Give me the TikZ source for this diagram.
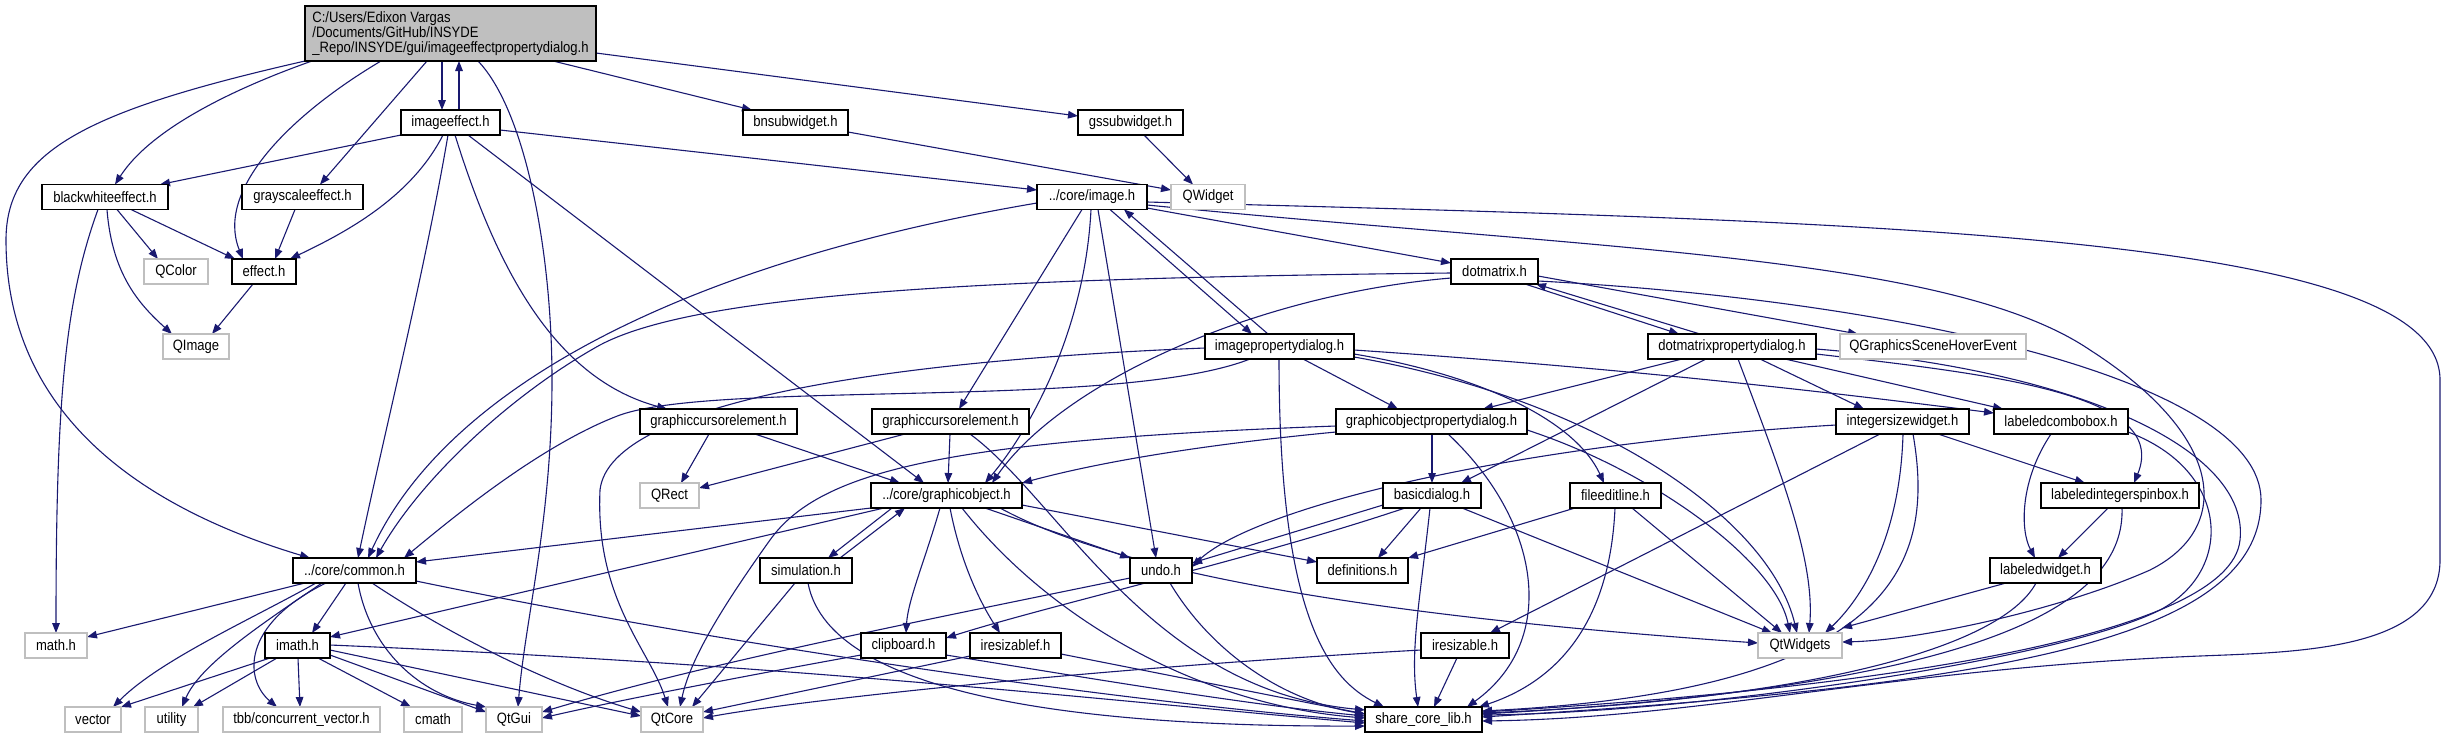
\documentclass[tikz,border=0pt]{standalone}
\usepackage{fontspec}
\setmainfont{Liberation Sans}[FakeStretch=0.87]
\usetikzlibrary{arrows.meta}
\definecolor{edge}{HTML}{191970}
\definecolor{sysgray}{HTML}{BFBFBF}
\definecolor{rootgray}{HTML}{BFBFBF}
\newcommand\nfont{\fontsize{7.5pt}{7.6pt}\selectfont}
\newcommand\nd[6]{\node[#5, minimum width={(#3-#2)*0.5pt}, minimum height=12.5pt] (#1) at ({(#2+#3)/2},#4) {#6};}
\pgfdeclarelayer{bg}\pgfsetlayers{bg,main}
\tikzset{
 hdr/.style={draw=black, line width=0.65pt, fill=white, inner sep=0pt, outer sep=0pt, font=\nfont},
 sys/.style={draw=sysgray, line width=0.65pt, fill=white, inner sep=0pt, outer sep=0pt, font=\nfont},
 edg/.style={draw=edge, line width=0.55pt, -{Triangle[length=5pt,width=3.8pt]}, fill=none}
}
\begin{document}
\begin{tikzpicture}[x=0.5pt,y=-0.5pt]
\useasboundingbox (0,0) rectangle (2445,739);
\node[hdr, fill=rootgray, minimum width=145.5pt, minimum height=27.5pt, align=left] (root) at (450.5,33.5)
 {C:/Users/Edixon Vargas\\/Documents/GitHub/INSYDE\\\_Repo/INSYDE/gui/imageeffectpropertydialog.h};
\nd{ie}{401}{500}{122.5}{hdr}{imageeffect.h}
\nd{bnsw}{743}{848}{122.5}{hdr}{bnsubwidget.h}
\nd{gssw}{1078}{1183}{122.5}{hdr}{gssubwidget.h}
\nd{bwe}{42}{168}{197}{hdr}{blackwhiteeffect.h}
\nd{gse}{242}{363}{197}{hdr}{grayscaleeffect.h}
\nd{img}{1037}{1147}{197}{hdr}{../core/image.h}
\nd{qwidget}{1171}{1245}{197}{sys}{QWidget}
\nd{qcolor}{144}{208}{271.5}{sys}{QColor}
\nd{effect}{232}{296}{271.5}{hdr}{effect.h}
\nd{dotm}{1451}{1538}{271.5}{hdr}{dotmatrix.h}
\nd{qimage}{163}{229}{346.5}{sys}{QImage}
\nd{ipd}{1205}{1354}{346.5}{hdr}{imagepropertydialog.h}
\nd{dmpd}{1648}{1816}{346.5}{hdr}{dotmatrixpropertydialog.h}
\nd{qgshe}{1840}{2026}{346.5}{sys}{QGraphicsSceneHoverEvent}
\nd{gceA}{640}{797}{421.5}{hdr}{graphiccursorelement.h}
\nd{gceB}{872}{1029}{421.5}{hdr}{graphiccursorelement.h}
\nd{gopd}{1336}{1527}{421.5}{hdr}{graphicobjectpropertydialog.h}
\nd{isw}{1836}{1969}{421.5}{hdr}{integersizewidget.h}
\nd{lcb}{1994}{2128}{421.5}{hdr}{labeledcombobox.h}
\nd{qrect}{640}{699}{495.5}{sys}{QRect}
\nd{gobj}{871}{1022}{495.5}{hdr}{../core/graphicobject.h}
\nd{bdlg}{1383}{1481}{495.5}{hdr}{basicdialog.h}
\nd{fel}{1570}{1661}{495.5}{hdr}{fileeditline.h}
\nd{lisb}{2041}{2199}{495.5}{hdr}{labeledintegerspinbox.h}
\nd{common}{293}{416}{570.5}{hdr}{../core/common.h}
\nd{sim}{760}{852}{570.5}{hdr}{simulation.h}
\nd{undo}{1130}{1192}{570.5}{hdr}{undo.h}
\nd{defs}{1317}{1408}{570.5}{hdr}{definitions.h}
\nd{lw}{1990}{2101}{570.5}{hdr}{labeledwidget.h}
\nd{mathh}{25}{87}{645.5}{sys}{math.h}
\nd{imath}{265}{330}{645.5}{hdr}{imath.h}
\nd{clip}{861}{946}{645.5}{hdr}{clipboard.h}
\nd{iresf}{970}{1061}{645.5}{hdr}{iresizablef.h}
\nd{ires}{1421}{1509}{645.5}{hdr}{iresizable.h}
\nd{qtw}{1758}{1842}{645.5}{sys}{QtWidgets}
\nd{vector}{65}{121}{719.5}{sys}{vector}
\nd{utility}{145}{198}{719.5}{sys}{utility}
\nd{tbb}{223}{380}{719.5}{sys}{tbb/concurrent\_vector.h}
\nd{cmath}{404}{462}{719.5}{sys}{cmath}
\nd{qtgui}{486}{542}{719.5}{sys}{QtGui}
\nd{qtcore}{641}{703}{719.5}{sys}{QtCore}
\nd{share}{1365}{1482}{719.5}{hdr}{share\_core\_lib.h}

\begin{pgfonlayer}{bg}
% root
\draw[edg] (root.south -| 442,0) -- (ie.north -| 442,0);
\draw[edg] (ie.north -| 459,0) -- (root.south -| 459,0);
\draw[edg] (root.south -| 312,0) .. controls (230,90) and (150,130) .. (bwe.north -| 115,0);
\draw[edg] (root.south -| 381,0) .. controls (290,115) and (215,190) .. (effect.north -| 243,0);
\draw[edg] (root.south -| 427,0) -- (gse.north -| 320,0);
\draw[edg] (root.south west) .. controls (90,110) and (6,150) .. (6,240) .. controls (6,420) and (150,510) .. (common.north -| 310,0);
\draw[edg] (root.south -| 478,0) .. controls (525,110) and (552,250) .. (552,380) .. controls (552,520) and (525,620) .. (qtgui.north -| 518,0);
\draw[edg] (root.south -| 553,0) -- (bnsw.north -| 752,0);
\draw[edg] (root.east |- 0,53) -- (gssw.west |- 0,116);
% imageeffect
\draw[edg] (ie.south west) -- (bwe.north -| 160,0);
\draw[edg] (ie.south -| 443,0) .. controls (410,200) and (340,235) .. (effect.north -| 290,0);
\draw[edg] (ie.south -| 448,0) .. controls (425,270) and (385,430) .. (common.north -| 358,0);
\draw[edg] (ie.south -| 455,0) .. controls (500,280) and (560,380) .. (gceA.north -| 667,0);
\draw[edg] (ie.south -| 468,0) -- (gobj.north -| 924,0);
\draw[edg] (ie.east |- 0,130) -- (img.west |- 0,190);
% effects
\draw[edg] (bwe.south -| 98,0) .. controls (65,300) and (56,400) .. (mathh.north -| 56,0);
\draw[edg] (bwe.south -| 107,0) .. controls (112,275) and (140,305) .. (qimage.north -| 172,0);
\draw[edg] (bwe.south -| 117,0) -- (qcolor.north -| 158,0);
\draw[edg] (bwe.south -| 131,0) -- (effect.north -| 235,0);
\draw[edg] (gse.south -| 295,0) -- (effect.north -| 275,0);
\draw[edg] (effect.south -| 253,0) -- (qimage.north -| 212,0);
\draw[edg] (bnsw.east |- 0,132) -- (qwidget.west |- 0,190);
\draw[edg] (gssw.south -| 1144,0) -- (qwidget.north -| 1193,0);
% image.h
\draw[edg] (img.west |- 0,203) .. controls (700,260) and (450,380) .. (common.north -| 368,0);
\draw[edg] (img.south -| 1082,0) -- (gceB.north -| 959,0);
\draw[edg] (img.south -| 1091,0) .. controls (1085,330) and (1030,430) .. (gobj.north -| 985,0);
\draw[edg] (img.south -| 1098,0) -- (undo.north -| 1156,0);
\draw[edg] (img.south -| 1110,0) -- (ipd.north -| 1252,0);
\draw[edg] (ipd.north -| 1268,0) -- (img.south -| 1124,0);
\draw[edg] (img.east |- 0,208) -- (dotm.west |- 0,263);
\draw[edg] (img.east |- 0,202) .. controls (1900,222) and (2440,235) .. (2440,380) -- (2440,560) .. controls (2440,650) and (2300,652) .. (2200,656) .. controls (1900,668) and (1700,718) .. (share.east |- 0,721);
\draw[edg] (img.east |- 0,205) .. controls (1600,250) and (1950,255) .. (2090,350) .. controls (2230,440) and (2230,530) .. (2150,570) .. controls (2060,610) and (1920,640) .. (qtw.east |- 0,642);
% dotmatrix
\draw[edg] (dotm.south -| 1525,0) -- (dmpd.north -| 1679,0);
\draw[edg] (dmpd.north -| 1700,0) -- (dotm.south -| 1536,0);
\draw[edg] (dotm.east |- 0,276) -- (qgshe.north -| 1858,0);
\draw[edg] (dotm.west |- 0,273) .. controls (1000,278) and (700,292) .. (600,345) .. controls (510,395) and (420,480) .. (common.north -| 376,0);
\draw[edg] (dotm.west |- 0,278) .. controls (1250,295) and (1060,385) .. (gobj.north -| 992,0);
\draw[edg] (dotm.east |- 0,281) .. controls (1900,300) and (2261,380) .. (2261,500) .. controls (2261,640) and (2000,685) .. (share.east |- 0,717);
% imagepropertydialog
\draw[edg] (ipd.south -| 1303,0) -- (gopd.north -| 1398,0);
\draw[edg] (ipd.east |- 0,350) .. controls (1650,370) and (1850,395) .. (lcb.west |- 0,413);
\draw[edg] (ipd.east |- 0,354) .. controls (1480,375) and (1575,420) .. (fel.north -| 1604,0);
\draw[edg] (ipd.east |- 0,357) .. controls (1600,400) and (1770,520) .. (qtw.north -| 1797,0);
\draw[edg] (ipd.south -| 1279,0) .. controls (1279,620) and (1330,680) .. (share.north -| 1384,0);
\draw[edg] (ipd.south -| 1250,0) .. controls (1120,410) and (720,380) .. (620,415) .. controls (540,445) and (450,520) .. (common.north -| 404,0);
\draw[edg] (ipd.west |- 0,348) .. controls (900,360) and (610,400) .. (600,490) .. controls (595,600) and (650,650) .. (qtcore.north -| 668,0);
% dotmatrixpropertydialog
\draw[edg] (dmpd.south -| 1682,0) -- (gopd.north -| 1483,0);
\draw[edg] (dmpd.south -| 1706,0) -- (bdlg.north -| 1461,0);
\draw[edg] (dmpd.south -| 1738,0) .. controls (1780,470) and (1815,560) .. (qtw.north -| 1809,0);
\draw[edg] (dmpd.south -| 1760,0) -- (isw.north -| 1864,0);
\draw[edg] (dmpd.south -| 1785,0) -- (lcb.north -| 2003,0);
\draw[edg] (dmpd.east |- 0,354) .. controls (2000,375) and (2170,395) .. (lisb.north -| 2134,0);
\draw[edg] (dmpd.east |- 0,349) .. controls (2080,370) and (2250,450) .. (2240,540) .. controls (2230,640) and (1850,690) .. (share.east |- 0,712);
% graphiccursorelement
\draw[edg] (gceA.south -| 709,0) -- (qrect.north -| 681,0);
\draw[edg] (gceA.south -| 755,0) -- (gobj.north -| 900,0);
\draw[edg] (gceB.south -| 905,0) -- (qrect.east |- 0,488);
\draw[edg] (gceB.south -| 950,0) -- (gobj.north -| 948,0);
\draw[edg] (gceB.south -| 970,0) .. controls (1060,500) and (1150,690) .. (share.west |- 0,710);
% graphicobjectpropertydialog
\draw[edg] (gopd.south -| 1432,0) -- (bdlg.north -| 1432,0);
\draw[edg] (gopd.south -| 1448,0) .. controls (1540,520) and (1560,640) .. (share.north -| 1467,0);
\draw[edg] (gopd.east |- 0,430) .. controls (1650,470) and (1775,560) .. (qtw.north -| 1790,0);
\draw[edg] (gopd.west |- 0,432) .. controls (1200,445) and (1100,462) .. (gobj.north east);
\draw[edg] (gopd.west |- 0,426) .. controls (950,440) and (820,470) .. (770,540) .. controls (720,610) and (690,660) .. (qtcore.north -| 680,0);
% graphicobject
\draw[edg] (gobj.south west) -- (common.east |- 0,562);
\draw[edg] (gobj.south -| 884,0) -- (imath.east |- 0,637);
\draw[edg] (gobj.south -| 892,0) -- (sim.north -| 828,0);
\draw[edg] (sim.north -| 840,0) -- (gobj.south -| 905,0);
\draw[edg] (gobj.south -| 940,0) .. controls (925,560) and (908,600) .. (clip.north -| 906,0);
\draw[edg] (gobj.south -| 950,0) .. controls (962,570) and (985,610) .. (iresf.north -| 1000,0);
\draw[edg] (gobj.south -| 985,0) -- (undo.north west);
\draw[edg] (gobj.east |- 0,505) -- (defs.west |- 0,562);
\draw[edg] (gobj.south -| 962,0) .. controls (1050,620) and (1200,705) .. (share.west |- 0,718);
\draw[edg] (gobj.south -| 1000,0) .. controls (1150,590) and (1500,625) .. (qtw.west |- 0,643);
% simulation, undo, clipboard, iresizablef
\draw[edg] (sim.south -| 795,0) -- (qtcore.north -| 692,0);
\draw[edg] (sim.south -| 808,0) .. controls (830,700) and (1100,727) .. (share.west |- 0,726);
\draw[edg] (undo.west |- 0,578) .. controls (900,625) and (700,665) .. (qtgui.east |- 0,712);
\draw[edg] (undo.south -| 1170,0) .. controls (1210,650) and (1280,700) .. (share.west |- 0,714);
\draw[edg] (clip.west |- 0,655) .. controls (750,675) and (620,700) .. (qtgui.east |- 0,718);
\draw[edg] (clip.east |- 0,655) .. controls (1100,680) and (1250,705) .. (share.west |- 0,716);
\draw[edg] (iresf.west |- 0,656) -- (qtcore.east |- 0,712);
\draw[edg] (iresf.east |- 0,654) -- (share.west |- 0,714);
% common
\draw[edg] (common.south -| 305,0) -- (mathh.east |- 0,637);
\draw[edg] (common.south -| 346,0) -- (imath.north -| 312,0);
\draw[edg] (common.south -| 316,0) .. controls (250,620) and (160,660) .. (vector.north -| 113,0);
\draw[edg] (common.south -| 322,0) .. controls (260,625) and (200,665) .. (utility.north -| 182,0);
\draw[edg] (common.south -| 326,0) .. controls (240,625) and (245,680) .. (tbb.north -| 277,0);
\draw[edg] (common.south -| 358,0) .. controls (370,650) and (420,695) .. (qtgui.north west);
\draw[edg] (common.south -| 372,0) .. controls (450,635) and (550,685) .. (qtcore.west |- 0,712);
\draw[edg] (common.east |- 0,581) .. controls (700,640) and (1100,700) .. (share.west |- 0,721);
% imath
\draw[edg] (imath.south -| 270,0) -- (vector.north east);
\draw[edg] (imath.south -| 277,0) -- (utility.north -| 193,0);
\draw[edg] (imath.south -| 298,0) -- (tbb.north -| 300,0);
\draw[edg] (imath.south -| 318,0) -- (cmath.north -| 411,0);
\draw[edg] (imath.east |- 0,655) -- (qtgui.west |- 0,712);
\draw[edg] (imath.east |- 0,650) -- (qtcore.west |- 0,716);
\draw[edg] (imath.east |- 0,645) .. controls (800,665) and (1100,700) .. (share.west |- 0,723);
% basicdialog
\draw[edg] (bdlg.south -| 1421,0) -- (defs.north -| 1378,0);
\draw[edg] (bdlg.south -| 1430,0) .. controls (1420,600) and (1410,650) .. (share.north -| 1418,0);
\draw[edg] (bdlg.south -| 1462,0) -- (qtw.north -| 1772,0);
\draw[edg] (bdlg.west |- 0,505) -- (undo.east |- 0,563);
\draw[edg] (bdlg.south -| 1405,0) .. controls (1250,560) and (1050,605) .. (clip.east |- 0,638);
% fileeditline
\draw[edg] (fel.south -| 1575,0) -- (defs.north east);
\draw[edg] (fel.south -| 1632,0) -- (qtw.north -| 1782,0);
\draw[edg] (fel.south -| 1615,0) .. controls (1610,620) and (1560,680) .. (share.north -| 1479,0);
% iresizable
\draw[edg] (ires.south -| 1457,0) -- (share.north -| 1434,0);
\draw[edg] (ires.west |- 0,650) .. controls (1100,668) and (800,700) .. (qtcore.east |- 0,718);
% integersizewidget
\draw[edg] (isw.south -| 1903,0) .. controls (1900,540) and (1860,600) .. (qtw.north -| 1825,0);
\draw[edg] (isw.south -| 1913,0) .. controls (1935,560) and (1900,690) .. (share.east |- 0,711);
\draw[edg] (isw.south -| 1938,0) -- (lisb.north -| 2085,0);
\draw[edg] (isw.south -| 1880,0) -- (ires.north -| 1490,0);
\draw[edg] (isw.west |- 0,425) .. controls (1500,445) and (1250,510) .. (undo.east |- 0,567);
% labeled*
\draw[edg] (lcb.south -| 2051,0) .. controls (2020,480) and (2020,530) .. (lw.north -| 2035,0);
\draw[edg] (lcb.east |- 0,432) .. controls (2230,470) and (2235,570) .. (2160,610) .. controls (2060,660) and (1700,712) .. (share.east |- 0,715);
\draw[edg] (lisb.south -| 2108,0) -- (lw.north -| 2058,0);
\draw[edg] (lisb.south -| 2122,0) .. controls (2125,600) and (2000,685) .. (share.east |- 0,714);
\draw[edg] (lw.south -| 2006,0) -- (qtw.east |- 0,628);
\draw[edg] (lw.south -| 2036,0) .. controls (2000,650) and (1800,700) .. (share.east |- 0,713);
\end{pgfonlayer}
\end{tikzpicture}
\end{document}
